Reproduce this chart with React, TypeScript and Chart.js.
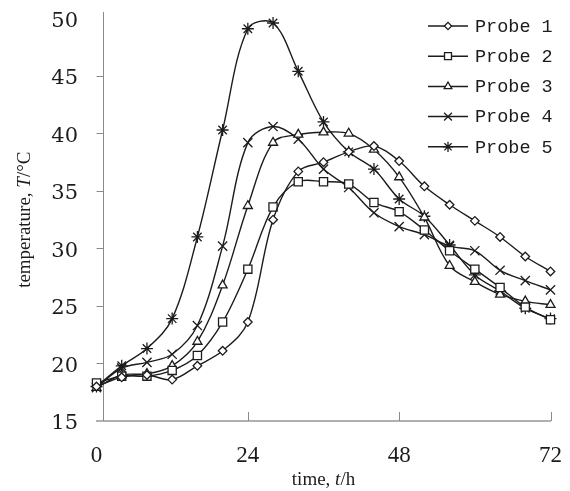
import React, { useEffect, useRef } from 'react';
import { Chart, registerables } from 'chart.js';
import { drawPoint } from 'chart.js/helpers';

Chart.register(...registerables);

// ---- data ----
const hours = [0, 4, 8, 12, 16, 20, 24, 28, 32, 36, 40, 44, 48, 52, 56, 60, 64, 68, 72];
const probe1 = [18.0, 18.8, 19.0, 18.6, 19.8, 21.1, 23.6, 32.5, 36.7, 37.5, 38.4, 38.9, 37.6, 35.4, 33.8, 32.4, 31.0, 29.3, 28.0];
const probe2 = [18.3, 18.9, 18.9, 19.4, 20.7, 23.6, 28.2, 33.6, 35.8, 35.8, 35.6, 34.0, 33.2, 31.6, 29.8, 28.2, 26.6, 24.9, 23.8];
const probe3 = [17.9, 19.0, 19.1, 19.8, 21.9, 26.8, 33.7, 39.2, 39.9, 40.1, 40.0, 38.6, 36.2, 32.7, 28.5, 27.1, 26.0, 25.4, 25.1];
const probe4 = [17.9, 19.6, 20.1, 20.8, 23.3, 30.2, 39.2, 40.6, 39.5, 36.9, 35.3, 33.1, 31.9, 31.2, 30.2, 29.8, 28.1, 27.2, 26.4];
const probe5 = [18.0, 19.8, 21.3, 23.9, 31.0, 40.3, 49.1, 49.6, 45.4, 41.0, 38.4, 36.9, 34.3, 32.8, 30.3, 27.7, 26.3, 24.8, 23.9];
const seriesNames = ['Probe 1', 'Probe 2', 'Probe 3', 'Probe 4', 'Probe 5'];
const xTickValues = [0, 24, 48, 72];
const yTickValues = [15, 20, 25, 30, 35, 40, 45, 50];
const xTitle = ['time, ', 't', '/h'];
const yTitle = ['temperature, ', 'T', '/°C'];

// ---- styles ----
const INK = '#1c1c1c';
const AXIS_GRAY = '#8a8a8a';
const AXIS_LIGHT = '#b0b0b0';
const markerStyles = [
  { pointStyle: 'rectRot', radius: 4.3 },
  { pointStyle: 'rect', radius: 5.8 },
  { pointStyle: 'triangle', radius: 5.2 },
  { pointStyle: 'crossRot', radius: 6.5 },
  { pointStyle: 'star', radius: 6 },
];
const seriesValues = [probe1, probe2, probe3, probe4, probe5];

function drawMixed(ctx: CanvasRenderingContext2D, parts: string[], cx: number, cy: number, size: number) {
  const fam = '"Liberation Serif", "Times New Roman", serif';
  const fonts = parts.map((_, i) => (i === 1 ? `italic ${size}px ${fam}` : `${size}px ${fam}`));
  let total = 0;
  const widths = parts.map((p, i) => {
    ctx.font = fonts[i];
    const w = ctx.measureText(p).width;
    total += w;
    return w;
  });
  let x = cx - total / 2;
  ctx.textBaseline = 'middle';
  ctx.textAlign = 'left';
  parts.forEach((p, i) => {
    ctx.font = fonts[i];
    ctx.fillText(p, x, cy);
    x += widths[i];
  });
}

const zeroPad = (s: any) => {
  s.paddingTop = 0;
  s.paddingBottom = 0;
  s.paddingLeft = 0;
  s.paddingRight = 0;
};

const decorPlugin = {
  id: 'decor',
  beforeDatasetsDraw(chart: any) {
    const { ctx, chartArea, scales } = chart;
    const yAxisX = chartArea.left + 7;
    ctx.save();
    ctx.strokeStyle = AXIS_GRAY;
    ctx.lineWidth = 1;
    ctx.beginPath();
    ctx.moveTo(yAxisX, chartArea.top - 6.5);
    ctx.lineTo(yAxisX, chartArea.bottom);
    ctx.stroke();
    yTickValues.forEach((v) => {
      if (v === 15 || v === 50) return;
      const y = Math.round(scales.y.getPixelForValue(v)) + 0.5;
      ctx.beginPath();
      ctx.moveTo(chartArea.left, y);
      ctx.lineTo(yAxisX, y);
      ctx.stroke();
    });
    xTickValues.forEach((v) => {
      if (v === 0) return;
      const x = Math.round(scales.x.getPixelForValue(v)) + 0.5;
      ctx.beginPath();
      ctx.moveTo(x, chartArea.bottom);
      ctx.lineTo(x, chartArea.bottom - 9);
      ctx.stroke();
    });
    ctx.restore();
  },
  afterDraw(chart: any) {
    const { ctx, chartArea } = chart;
    ctx.save();
    ctx.fillStyle = INK;
    drawMixed(ctx, xTitle, (chartArea.left + chartArea.right) / 2, 480, 19);
    ctx.save();
    ctx.translate(25, (chartArea.top + chartArea.bottom) / 2);
    ctx.rotate(-Math.PI / 2);
    drawMixed(ctx, yTitle, 0, 0, 19);
    ctx.restore();
    chart.data.datasets.forEach((ds: any, i: number) => {
      const y = 26 + 30.2 * i;
      ctx.strokeStyle = INK;
      ctx.lineWidth = 1.5;
      ctx.beginPath();
      ctx.moveTo(428, y);
      ctx.lineTo(468, y);
      ctx.stroke();
      ctx.fillStyle = '#ffffff';
      ctx.strokeStyle = INK;
      ctx.lineWidth = 1.3;
      drawPoint(ctx, { pointStyle: ds.pointStyle, radius: ds.pointRadius * 0.85, borderWidth: 1.3, rotation: 0 }, 448, y);
      ctx.fillStyle = INK;
      ctx.font = '18.5px "Liberation Mono", monospace';
      ctx.textAlign = 'left';
      ctx.textBaseline = 'middle';
      ctx.fillText(ds.label, 475, y + 1);
    });
    ctx.restore();
  },
};

export default function App() {
  const canvasRef = useRef<HTMLCanvasElement | null>(null);

  useEffect(() => {
    document.body.style.margin = '0';
    const canvas = canvasRef.current;
    if (!canvas) return;
    const datasets = seriesValues.map((vals, i) => ({
      label: seriesNames[i],
      data: hours.map((h, k) => ({ x: h, y: vals[k] })),
      borderColor: INK,
      backgroundColor: '#ffffff',
      borderWidth: 1.4,
      pointStyle: markerStyles[i].pointStyle,
      pointRadius: markerStyles[i].radius,
      pointBorderWidth: 1.3,
      pointBorderColor: INK,
      pointBackgroundColor: '#ffffff',
      tension: 0.35,
      fill: false,
      clip: 10,
    }));
    const chart = new Chart(canvas, {
      type: 'line',
      data: { datasets },
      options: {
        responsive: false,
        animation: false,
        events: [],
        layout: { padding: { top: 18.4, right: 19.5, left: 0, bottom: 0 } },
        plugins: { legend: { display: false }, tooltip: { enabled: false } },
        scales: {
          x: {
            type: 'linear',
            min: 0,
            max: 72,
            afterFit: (s: any) => { s.height = 70; zeroPad(s); },
            afterBuildTicks: (s: any) => { s.ticks = xTickValues.map((v) => ({ value: v })); },
            grid: { display: false, drawTicks: false },
            border: { display: true, color: AXIS_LIGHT, width: 2 },
            ticks: {
              padding: 21,
              color: INK,
              maxRotation: 0,
              font: { family: '"Liberation Serif", "Times New Roman", serif', size: 23 },
            },
          },
          y: {
            type: 'linear',
            min: 15,
            max: 50,
            afterFit: (s: any) => { s.width = 96.5; zeroPad(s); },
            afterBuildTicks: (s: any) => { s.ticks = yTickValues.map((v) => ({ value: v })); },
            grid: { display: false, drawTicks: false },
            border: { display: false },
            ticks: {
              padding: 18.5,
              labelOffset: 3,
              color: INK,
              font: { family: '"DejaVu Serif", serif', size: 21 },
            },
          },
        },
      },
      plugins: [decorPlugin],
    } as any);
    return () => chart.destroy();
  }, []);

  return (
    <div style={{ width: 570, height: 491 }}>
      <canvas ref={canvasRef} width={570} height={491} style={{ display: 'block' }} />
    </div>
  );
}
